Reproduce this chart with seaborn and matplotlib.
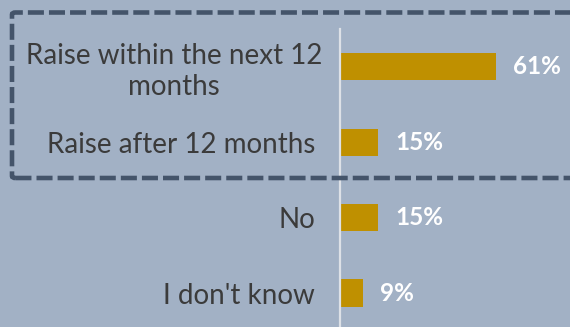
import matplotlib
matplotlib.use("Agg")
import matplotlib.pyplot as plt
import seaborn as sns
import pandas as pd
from matplotlib.patches import FancyBboxPatch

categories = ["Raise within the next 12\nmonths", "Raise after 12 months", "No", "I don't know"]
values = [61, 15, 15, 9]
value_labels = ["61%", "15%", "15%", "9%"]

BG = "#a2b1c5"
BAR = "#bf9000"
TXT = "#3b3b3b"
BOX = "#44546a"

sns.set_theme(style="white")
plt.rcParams["font.family"] = ["Lato", "DejaVu Sans"]

W, H = 570, 327
fig = plt.figure(figsize=(W / 100, H / 100), dpi=100, facecolor=BG)
ax = fig.add_axes([340 / W, 0, (W - 340) / W, (H - 29) / H])
ax.set_facecolor(BG)

df = pd.DataFrame({"cat": categories, "val": values})
sns.barplot(data=df, x="val", y="cat", orient="h", color=BAR, width=0.36,
            saturation=1, linewidth=0, ax=ax)

ax.set_xlim(0, 90)
ax.set_ylim(3.45, -0.5)
ax.set_xlabel("")
ax.set_ylabel("")
ax.set_xticks([])
for s in ["top", "right", "bottom"]:
    ax.spines[s].set_visible(False)
ax.spines["left"].set_color("#dde1e7")
ax.spines["left"].set_linewidth(1.6)
ax.spines["left"].set_zorder(10)

ax.tick_params(axis="y", length=0, pad=18, labelsize=20, labelcolor=TXT)
ax.yaxis.get_major_ticks()[0].set_pad(13)
for lbl in ax.get_yticklabels():
    lbl.set_multialignment("center")
    lbl.set_linespacing(1.25)

for i, (v, t) in enumerate(zip(values, value_labels)):
    ax.annotate(t, xy=(v, i), xytext=(12, 0), textcoords="offset points",
                ha="left", va="center", color="white", fontsize=17.5,
                fontweight="bold")

box = FancyBboxPatch((12 / W, (H - 178) / H), (W + 40) / W, (178 - 12.5) / H,
                     boxstyle="round,pad=0,rounding_size=0.006",
                     transform=fig.transFigure, fill=False, edgecolor=BOX,
                     linewidth=3.3, linestyle=(0, (3.5, 1.1)), clip_on=False,
                     zorder=5)
box.set_capstyle("butt")
fig.patches.append(box)

fig.savefig("out.png", dpi=100, facecolor=BG)
